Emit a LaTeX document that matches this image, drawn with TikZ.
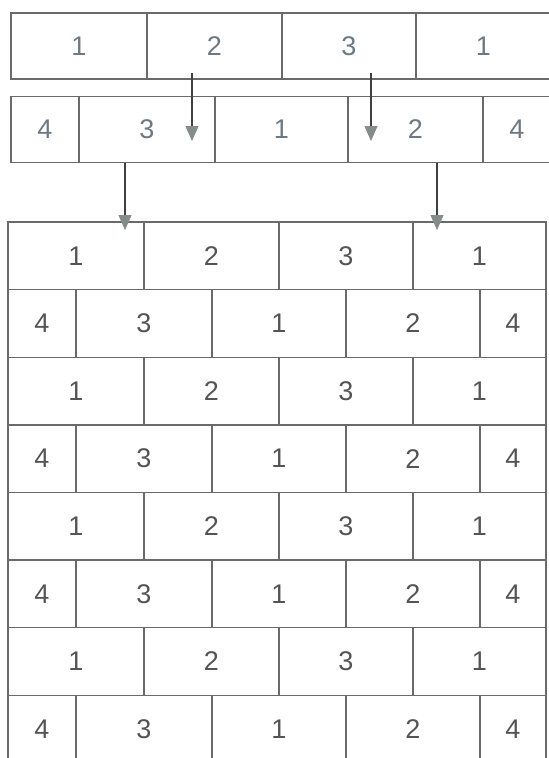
\documentclass[tikz,border=0pt]{standalone}
\usepackage{fontspec}
\setmainfont{Liberation Sans}
\usetikzlibrary{arrows.meta}

\definecolor{linegray}{HTML}{6A6A6A}
\definecolor{topgray}{HTML}{6E7882}
\definecolor{numgray}{HTML}{545454}
\definecolor{tipgray}{HTML}{858D8A}

\begin{document}
\begin{tikzpicture}[x=1pt, y=-1pt,
    brick/.style={draw=linegray, line width=1.4pt, inner sep=0pt,
        minimum height=66pt, text=numgray,
        font=\fontsize{27}{30}\selectfont},
    topbrick/.style={brick, text=topgray},
    feed/.style={draw=black!75, line width=1.1pt,
        -{Triangle[width=13pt, length=15pt, color=tipgray, fill=tipgray]}}]

    \useasboundingbox (0,0) rectangle (549,758);
    \clip (0,0) rectangle (549,758);

    % Draw the two loose courses on top
    \foreach \l/\r/\t [count=\c] in {11/147/1, 147/282/2, 282/416/3, 416/551/1}
        \node[topbrick, minimum width={(\r-\l)*1pt}] (a\c) at ({(\l+\r)/2}, 46) {\t};

    \foreach \l/\r/\t [count=\c] in {11/79/4, 79/215/3, 215/348/1, 348/483/2, 483/551/4}
        \node[topbrick, minimum width={(\r-\l)*1pt}] (b\c) at ({(\l+\r)/2}, 129.5) {\t};

    % Draw the bonded wall below
    \foreach \k in {0,2,4,6}
        \foreach \l/\r/\t [count=\c] in {8/144/1, 144/279/2, 279/413/3, 413/546/1}
            \node[brick, minimum height=67.6pt, minimum width={(\r-\l)*1pt}]
                (w\k-\c) at ({(\l+\r)/2}, {222+67.6*\k+33.8}) {\t};

    \foreach \k in {1,3,5,7}
        \foreach \l/\r/\t [count=\c] in {8/76/4, 76/212/3, 212/346/1, 346/480/2, 480/546/4}
            \node[brick, minimum height=67.6pt, minimum width={(\r-\l)*1pt}]
                (w\k-\c) at ({(\l+\r)/2}, {222+67.6*\k+33.8}) {\t};

    % Draw the arrows (first course into second, second into wall)
    \coordinate (s1) at (192,73);
    \coordinate (e1) at (192,141);
    \coordinate (s2) at (371,73);
    \coordinate (e2) at (371,141);
    \coordinate (s3) at (125,163);
    \coordinate (e3) at (125,230);
    \coordinate (s4) at (437,163);
    \coordinate (e4) at (437,230);

    \draw[feed] (s1) -- (e1);
    \draw[feed] (s2) -- (e2);
    \draw[feed] (s3) -- (e3);
    \draw[feed] (s4) -- (e4);

\end{tikzpicture}
\end{document}
